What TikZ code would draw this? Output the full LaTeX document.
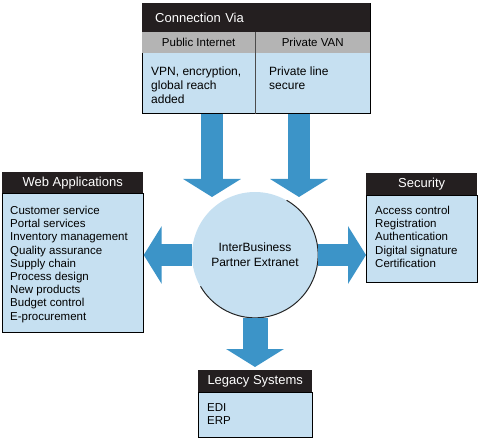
\documentclass[tikz,border=0pt]{standalone}
\usepackage{fontspec}
\setmainfont{Liberation Sans}
\usetikzlibrary{arrows.meta}
\definecolor{hdark}{RGB}{36,31,32}
\definecolor{hgray}{RGB}{180,180,180}
\definecolor{lblue}{RGB}{198,224,241}
\definecolor{ablue}{RGB}{60,148,200}
\begin{document}
\begin{tikzpicture}[x=1pt,y=1pt,
	hdr/.style={fill=hdark,text=white,inner sep=0pt,anchor=north west,font=\fontsize{13}{15}\selectfont},
	subhdr/.style={fill=hgray,inner sep=0pt,anchor=north west,font=\fontsize{11.5}{14}\selectfont},
	bodybox/.style={fill=lblue,draw=black,line width=.7pt,inner sep=0pt,anchor=north west},
	list/.style={inner sep=0pt,anchor=north west,align=left,font=\fontsize{11.5}{13.2}\selectfont},
	blockarrow/.style={draw=ablue,line width=22pt,-{Triangle[length=18pt,width=57pt]}}]
\useasboundingbox (0,0) rectangle (480,440);

% connection via
\node[bodybox,minimum width=228pt,minimum height=110pt] (connb) at (142,437){};
\node[hdr,minimum height=29pt,text width=202pt,inner xsep=13pt,align=left] (conn) at (142,437){Connection Via};
\node[subhdr,minimum width=113pt,minimum height=21pt] (pubh) at (142,408){Public Internet};
\node[subhdr,minimum width=115pt,minimum height=21pt] (vanh) at (255,408){Private VAN};
\draw[black!70,line width=.6pt] (vanh.north west)--(vanh.north west |- connb.south);
\node[list,font=\fontsize{12}{14}\selectfont] (pubt) at (151,373){VPN, encryption,\\global reach\\added};
\node[list,font=\fontsize{12}{14}\selectfont] (vant) at (269,373){Private line\\secure};

% extranet
\node[circle,fill=lblue,minimum size=126pt,inner sep=0pt,align=center,font=\fontsize{12}{15}\selectfont] (hub) at (255,185){InterBusiness\\Partner Extranet};
\draw[black!85,line width=1pt] (hub.60) arc[start angle=60,end angle=-150,radius=63pt];

% web applications
\node[bodybox,minimum width=141pt,minimum height=139pt] (webb) at (2,247){};
\node[hdr,minimum width=141pt,minimum height=21pt] (webh) at (2,268){Web Applications};
\node[list] (webt) at (10,234){Customer service\\Portal services\\Inventory management\\Quality assurance\\Supply chain\\Process design\\New products\\Budget control\\E-procurement};

% security
\node[bodybox,minimum width=111pt,minimum height=87pt] (secb) at (366,245){};
\node[hdr,minimum width=111pt,minimum height=22pt] (sech) at (366,267){Security};
\node[list] (sect) at (375,234){Access control\\Registration\\Authentication\\Digital signature\\Certification};

% legacy systems
\node[bodybox,minimum width=114pt,minimum height=45pt] (legb) at (198,48){};
\node[hdr,minimum width=114pt,minimum height=22pt] (legh) at (198,70){Legacy Systems};
\node[list] (legt) at (207,37){EDI\\ERP};

% arrows
\coordinate (pubtip) at (212,243);
\coordinate (vantip) at (299,243);
\foreach \t in {pubtip,vantip}
	\draw[blockarrow] (\t |- connb.south)--(\t);
\draw[blockarrow] (hub.west)--(webb.east |- hub.west);
\draw[blockarrow] (hub.east)--(secb.west |- hub.east);
\draw[blockarrow,line width=25pt,shorten >=3pt] (hub.south)--(hub.south |- legh.north);

\end{tikzpicture}
\end{document}
